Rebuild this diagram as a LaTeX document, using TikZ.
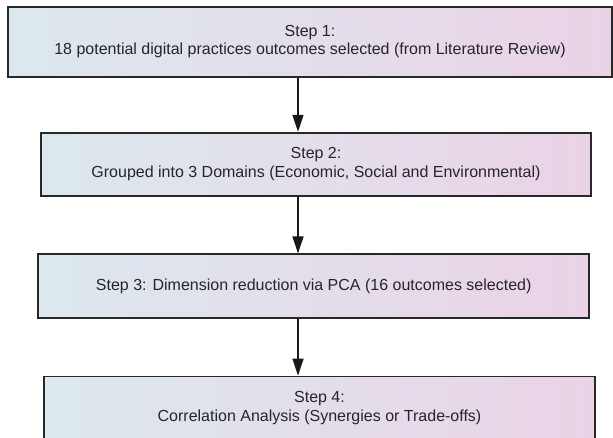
\documentclass[tikz,border=0pt]{standalone}
\usepackage{fontspec}
\setmainfont{Liberation Sans}
\usetikzlibrary{arrows.meta}

\definecolor{boxleft}{RGB}{220,232,238}
\definecolor{boxmid}{RGB}{230,222,236}
\definecolor{boxright}{RGB}{234,211,230}
\definecolor{boxline}{RGB}{40,40,40}

\tikzset{
  stepbox/.style={draw=boxline, line width=1.8pt, left color=boxleft, middle color=boxmid,
    right color=boxright, align=center, text=black!85, inner sep=0pt},
  flow/.style={line width=1.6pt, draw=black!90, -{Triangle[length=17pt,width=11pt]}}
}

\begin{document}
\begin{tikzpicture}[x=1pt,y=-1pt, every node/.style={font=\fontsize{16}{18.5}\selectfont}]
  \useasboundingbox (0,0) rectangle (613,438);
  \node[stepbox, minimum width=604pt, minimum height=70pt] (s1) at (310,41.7)
    {Step 1:\\18 potential digital practices outcomes selected (from Literature Review)};
  \node[stepbox, minimum width=550pt, minimum height=63pt] (s2) at (316,164.2)
    {Step 2:\\Grouped into 3 Domains (Economic, Social and Environmental)};
  \node[stepbox, minimum width=551pt, minimum height=63.4pt] (s3) at (313.7,286)
    {Step 3: Dimension reduction via PCA (16 outcomes selected)};
  \node[stepbox, minimum width=551pt, minimum height=63pt] (s4) at (319.5,408)
    {Step 4:\\Correlation Analysis (Synergies or Trade-offs)};
  \coordinate (spine) at (298,0);
  \foreach \a/\b in {s1/s2,s2/s3,s3/s4}
    \draw[flow] (\a.south -| spine) -- (\b.north -| spine);
\end{tikzpicture}
\end{document}
